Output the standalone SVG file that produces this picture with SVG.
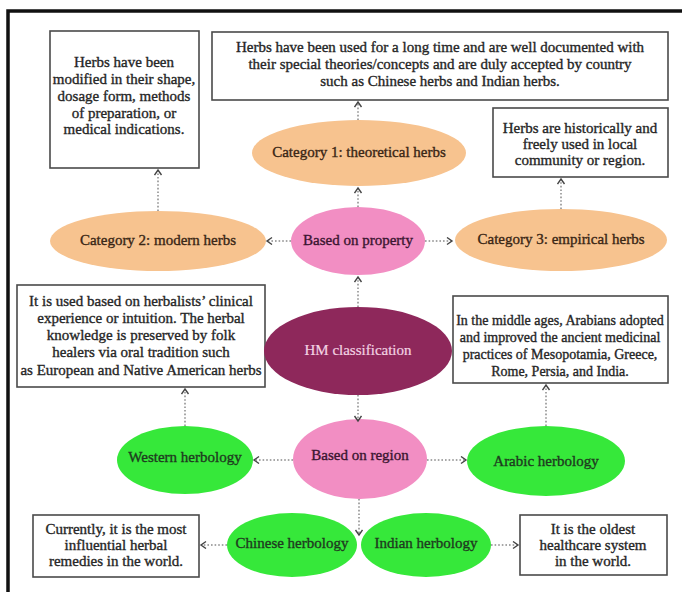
<svg xmlns="http://www.w3.org/2000/svg" width="682" height="592" viewBox="0 0 682 592">
<defs>
<marker id="chev" markerUnits="userSpaceOnUse" markerWidth="10" markerHeight="10" refX="6" refY="4" orient="auto">
<path d="M1,0.5 L6,4 L1,7.5" fill="none" stroke="#444" stroke-width="1.4"/>
</marker>
<style>
text{font-family:"Liberation Serif","Times New Roman",serif;font-size:15px;text-anchor:middle;stroke-width:0.35px;}
.box{fill:#fff;stroke:#4a4a4a;stroke-width:1.6;}
.bt{fill:#262626;stroke:#262626;}
.sm{font-size:14px;}
.peach{fill:#F7C38F;}
.pink{fill:#F28EC3;}
.green{fill:#36E83A;}
.hm{fill:#8E285B;}
.pt{fill:#3a2615;stroke:#3a2615;}
.kt{fill:#3a1530;stroke:#3a1530;}
.gt{fill:#1f3a1f;stroke:#1f3a1f;}
.wt{fill:#f3d3e3;stroke:#f3d3e3;stroke-width:0.2px;}
.con line{stroke:#8a8a8a;stroke-width:1.5;stroke-dasharray:1.6 2;marker-end:url(#chev);}
</style>
</defs>
<rect width="682" height="592" fill="#fff"/>
<path d="M8,592 V11 H682" fill="none" stroke="#111" stroke-width="3.5"/>

<g id="boxA">
<rect class="box" x="50" y="31" width="149" height="137"/>
<text class="bt" x="124" y="67">Herbs have been</text>
<text class="bt" x="124" y="84">modified in their shape,</text>
<text class="bt" x="124" y="101">dosage form, methods</text>
<text class="bt" x="124" y="118">of preparation, or</text>
<text class="bt" x="124" y="134">medical indications.</text>
</g>
<g id="boxB">
<rect class="box" x="212" y="32" width="456" height="68"/>
<text class="bt" x="440" y="52">Herbs have been used for a long time and are well documented with</text>
<text class="bt" x="440" y="69">their special theories/concepts and are duly accepted by country</text>
<text class="bt" x="440" y="86">such as Chinese herbs and Indian herbs.</text>
</g>
<g id="boxC">
<rect class="box" x="493" y="108" width="175" height="69"/>
<text class="bt" x="580" y="133">Herbs are historically and</text>
<text class="bt" x="580" y="149">freely used in local</text>
<text class="bt" x="580" y="165">community or region.</text>
</g>
<g id="cat1">
<ellipse class="peach" cx="359" cy="153" rx="107" ry="33"/>
<text class="pt" x="359" y="157">Category 1: theoretical herbs</text>
</g>
<g id="cat2">
<ellipse class="peach" cx="158" cy="241" rx="108" ry="30"/>
<text class="pt" x="158" y="245">Category 2: modern herbs</text>
</g>
<g id="property">
<ellipse class="pink" cx="358" cy="241" rx="67" ry="34"/>
<text class="kt" x="358" y="245">Based on property</text>
</g>
<g id="cat3">
<ellipse class="peach" cx="561" cy="240" rx="106" ry="31"/>
<text class="pt" x="561" y="244">Category 3: empirical herbs</text>
</g>
<g id="boxD">
<rect class="box" x="17" y="285" width="248" height="102"/>
<text class="bt" x="141" y="306">It is used based on herbalists’ clinical</text>
<text class="bt" x="141" y="323">experience or intuition. The herbal</text>
<text class="bt" x="141" y="340">knowledge is preserved by folk</text>
<text class="bt" x="141" y="357">healers via oral tradition such</text>
<text class="bt" x="141" y="375">as European and Native American herbs</text>
</g>
<g id="hm">
<ellipse class="hm" cx="358" cy="351" rx="94" ry="44"/>
<text class="wt" x="358" y="355">HM classification</text>
</g>
<g id="boxE">
<rect class="box" x="453" y="296" width="215" height="87"/>
<text class="bt sm" x="560" y="325">In the middle ages, Arabians adopted</text>
<text class="bt sm" x="560" y="342">and improved the ancient medicinal</text>
<text class="bt sm" x="560" y="359">practices of Mesopotamia, Greece,</text>
<text class="bt sm" x="560" y="376">Rome, Persia, and India.</text>
</g>
<g id="western">
<ellipse class="green" cx="185" cy="460" rx="68" ry="34"/>
<text class="gt" x="185" y="462">Western herbology</text>
</g>
<g id="region">
<ellipse class="pink" cx="360" cy="459" rx="67" ry="40"/>
<text class="kt" x="360" y="460">Based on region</text>
</g>
<g id="arabic">
<ellipse class="green" cx="546" cy="461" rx="79" ry="35"/>
<text class="gt" x="546" y="466">Arabic herbology</text>
</g>
<g id="chinese">
<ellipse class="green" cx="292" cy="545" rx="65" ry="32"/>
<text class="gt" x="292" y="548">Chinese herbology</text>
</g>
<g id="indian">
<ellipse class="green" cx="426" cy="545" rx="65" ry="32"/>
<text class="gt" x="426" y="548">Indian herbology</text>
</g>
<g id="boxF">
<rect class="box" x="33" y="515" width="166" height="62"/>
<text class="bt" x="116" y="534">Currently, it is the most</text>
<text class="bt" x="116" y="550">influential herbal</text>
<text class="bt" x="116" y="566">remedies in the world.</text>
</g>
<g id="boxG">
<rect class="box" x="520" y="515" width="147" height="60"/>
<text class="bt" x="593" y="534">It is the oldest</text>
<text class="bt" x="593" y="550">healthcare system</text>
<text class="bt" x="593" y="566">in the world.</text>
</g>

<g id="connectors" class="con">
<line x1="358" y1="120" x2="358" y2="102"/>
<line x1="158" y1="211" x2="158" y2="170"/>
<line x1="561" y1="209" x2="561" y2="179"/>
<line x1="358" y1="207" x2="358" y2="188"/>
<line x1="291" y1="241" x2="267" y2="241"/>
<line x1="425" y1="241" x2="452" y2="241"/>
<line x1="358" y1="307" x2="358" y2="277"/>
<line x1="358" y1="395" x2="358" y2="421"/>
<line x1="185" y1="426" x2="185" y2="389"/>
<line x1="546" y1="426" x2="546" y2="385"/>
<line x1="293" y1="460" x2="254" y2="460"/>
<line x1="427" y1="460" x2="466" y2="460"/>
<line x1="359" y1="499" x2="359" y2="535"/>
<line x1="227" y1="545" x2="201" y2="545"/>
<line x1="491" y1="545" x2="518" y2="545"/>
</g>
</svg>
